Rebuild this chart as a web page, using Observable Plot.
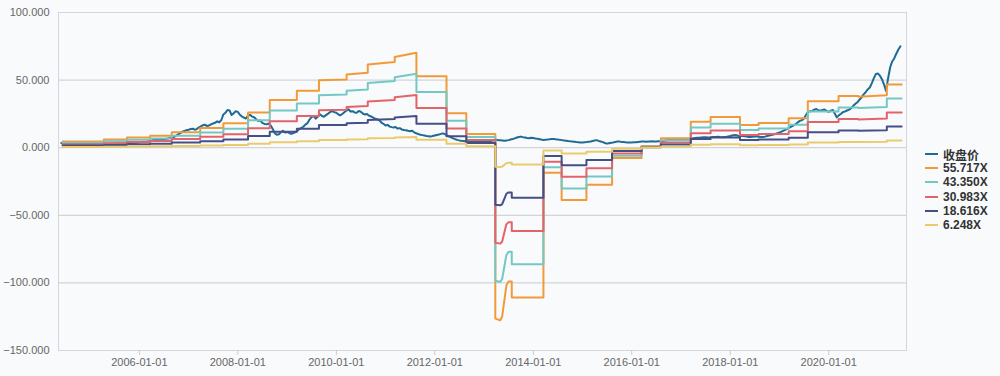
<!DOCTYPE html>
<html><head><meta charset="utf-8">
<script src="https://cdn.jsdelivr.net/npm/d3@7"></script>
<script src="https://cdn.jsdelivr.net/npm/@observablehq/plot@0.6"></script>
<style>
body{margin:0;background:#f9fafc;font-family:"Liberation Sans","Noto Sans CJK SC",sans-serif;}
#wrap{position:relative;width:1000px;height:376px;}
#legend{position:absolute;left:925px;top:147px;}
.item{display:flex;align-items:center;height:14.2px;font-size:12px;font-weight:bold;color:#333;white-space:nowrap;}
.sw{width:13px;height:2px;margin-right:5px;}
</style></head><body><div id="wrap"><div id="legend"></div></div>
<script>
// ---- data ----
const closeLabel = "收盘价";
const closeStart = [2004, 5]; // June 2004; two values per month (1st and 16th)
const closeValues = [
  3.4,3.3, 3.2,3.35, 3.3,3.1, 3.0,3.15, 3.1,2.95, 2.9,2.75, 2.8,2.95,
  2.9,3.05, 3.1,2.95, 3.0,2.85, 2.8,2.65, 2.7,2.85, 2.9,2.95, 3.0,3.2, 3.3,3.15, 3.2,3.35, 3.4,3.25, 3.3,3.5, 3.6,3.75,
  4.0,4.25, 4.4,4.45, 4.6,4.95, 5.2,5.7, 6.0,6.3, 6.4,6.0, 6.1,6.55, 6.8,7.3, 7.6,8.1, 8.9,9.9, 10.8,11.9, 12.4,12.9,
  13.2,13.9, 14.1,13.3, 13.6,14.9, 15.8,16.6, 17.0,16.1, 16.4,17.3, 17.9,18.4, 19.5,18.7, 20.5,24.6, 25.8,27.9, 27.6,24.2, 25.4,27.0,
  26.5,24.4, 23.0,22.3, 21.6,23.6, 24.3,23.0, 22.5,21.0, 19.8,20.2, 18.4,17.6, 17.3,17.9, 16.5,13.8, 10.8,9.6, 9.9,11.4, 12.6,11.2,
  11.6,10.9, 10.2,10.8, 11.3,12.4, 13.8,14.6, 15.5,17.1, 18.2,20.8, 22.6,23.4, 21.5,22.9, 24.8,23.5, 22.9,24.1, 25.2,26.4, 27.1,26.3,
  25.8,24.6, 24.0,25.1, 26.2,27.4, 28.4,26.8, 27.0,26.1, 25.9,27.2, 26.6,25.3, 24.5,24.9, 23.6,23.1, 22.3,21.4, 21.0,20.2, 18.6,17.7,
  16.4,16.9, 15.6,15.2, 14.9,15.3, 14.1,14.5, 13.5,13.1, 12.9,12.5, 12.2,12.6, 11.4,10.7, 10.1,9.6, 9.3,9.0, 8.6,8.4, 8.2,8.6,
  9.0,9.4, 9.7,10.2, 10.6,10.0, 9.1,8.3, 7.6,6.9, 6.3,5.8, 5.4,5.1, 4.9,4.7, 4.6,4.9, 4.8,4.6, 5.0,4.8, 4.7,5.0,
  4.9,4.7, 4.6,4.9, 5.2,5.5, 5.8,5.6, 5.5,5.3, 5.1,5.4, 5.6,6.0, 6.4,6.9, 7.5,7.9, 8.2,7.8, 7.6,7.2, 7.0,7.4,
  7.2,6.8, 6.6,6.3, 6.0,5.7, 5.8,6.1, 6.2,6.4, 6.5,6.2, 6.1,5.8, 5.6,5.4, 5.2,4.9, 4.7,4.6, 4.4,4.2, 4.1,3.9,
  3.9,4.1, 4.2,4.4, 4.6,5.0, 5.3,5.6, 5.0,4.6, 4.1,3.5, 3.0,3.3, 3.6,3.9, 4.3,4.5, 4.6,4.3, 4.2,4.0, 3.9,3.8,
  3.9,4.0, 4.1,4.3, 4.4,4.5, 4.6,4.4, 4.5,4.6, 4.7,4.5, 4.6,4.7, 4.8,5.0, 5.3,5.5, 5.7,5.9, 6.0,5.9, 5.8,6.0,
  6.1,6.3, 6.4,6.5, 6.6,6.8, 7.0,7.2, 7.3,7.4, 7.6,7.7, 7.8,7.6, 7.5,7.7, 7.9,8.0, 8.1,7.9, 7.8,7.9, 8.0,8.3,
  8.6,9.1, 9.4,9.2, 8.9,8.7, 8.6,8.4, 8.2,8.0, 7.9,8.1, 8.3,8.2, 8.1,8.0, 7.9,8.2, 8.6,9.0, 9.4,9.8, 10.2,10.7,
  11.2,11.9, 12.6,13.3, 14.0,14.9, 15.8,16.6, 17.5,18.7, 19.8,20.4, 21.5,24.2, 26.5,26.9, 27.2,28.1, 28.6,27.8, 27.4,27.9, 28.2,27.3,
  26.5,27.4, 27.9,25.1, 22.4,23.9, 25.1,26.3, 26.8,27.5, 28.2,29.3, 31.0,32.4, 33.6,35.5, 37.2,39.4, 41.0,43.1, 44.5,47.8, 51.5,54.6,
  54.8,53.1, 50.2,46.3, 42.0,51.0, 59.5,63.8, 66.0,69.5, 72.6,75.0
];

// EPS path (jumps appear as repeated dates)
const epsDates = [
  "2004-06-10","2005-04-12","2005-04-12","2005-10-01","2005-10-01","2006-03-22","2006-03-22","2006-08-29",
  "2006-08-29","2007-03-28","2007-03-28","2007-09-16","2007-09-16","2008-03-17","2008-03-17","2008-08-25",
  "2008-08-25","2009-03-14","2009-03-14","2009-08-25","2009-08-25","2010-03-18","2010-03-18","2010-08-22",
  "2010-08-22","2011-03-10","2011-03-10","2011-08-18","2011-08-18","2012-03-28","2012-03-28","2012-08-22",
  "2012-08-22","2013-03-25","2013-03-25","2013-05-01","2013-05-15","2013-06-15","2013-07-01","2013-07-25",
  "2013-07-25","2014-03-17","2014-03-17","2014-07-30","2014-07-30","2015-01-30","2015-01-30","2015-08-08",
  "2015-08-08","2016-03-14","2016-03-14","2016-08-04","2016-08-04","2017-03-14","2017-03-14","2017-08-08",
  "2017-08-08","2018-03-14","2018-03-14","2018-07-30","2018-07-30","2019-03-10","2019-03-10","2019-07-30",
  "2019-07-30","2020-03-14","2020-03-14","2020-08-08","2020-08-08","2021-03-07","2021-03-07","2021-06-25"
];
const epsValues = [
  0.083,0.083,0.108,0.108,0.135,0.135,0.158,0.158,
  0.206,0.206,0.260,0.260,0.323,0.323,0.467,0.467,
  0.634,0.634,0.756,0.756,0.897,0.906,0.973,0.994,
  1.104,1.138,1.203,1.260,0.949,0.949,0.458,0.458,
  0.183,0.183,-2.269,-2.290,-2.240,-1.830,-1.777,-1.777,
  -1.987,-1.987,-0.334,-0.334,-0.695,-0.695,-0.492,-0.492,
  -0.136,-0.136,0.020,0.020,0.127,0.127,0.346,0.346,
  0.408,0.408,0.303,0.303,0.329,0.329,0.391,0.391,
  0.616,0.616,0.686,0.686,0.676,0.695,0.840,0.840
];
const multiples = [55.717, 43.350, 30.983, 18.616, 6.248];
const bandLabels = ["55.717X", "43.350X", "30.983X", "18.616X", "6.248X"];
const seriesNames = [closeLabel, ...bandLabels];
const seriesColors = ["#1f6b95", "#f29a38", "#74c8c3", "#e2646a", "#454f86", "#eacb6b"];
const yTicks = [-150, -100, -50, 0, 50, 100];
const xTickYears = [2006, 2008, 2010, 2012, 2014, 2016, 2018, 2020];

// ---- tables ----
const closeRows = closeValues.map((v, i) => ({
  date: new Date(Date.UTC(closeStart[0], closeStart[1] + Math.floor(i / 2), i % 2 ? 16 : 1)),
  value: v
}));
const bandRows = [];
multiples.forEach((m, k) => {
  epsDates.forEach((d, i) => bandRows.push({date: new Date(d + "T00:00:00Z"), value: epsValues[i] * m, series: bandLabels[k]}));
});
const xTicks = xTickYears.map(y => new Date(Date.UTC(y, 0, 1)));

const chart = Plot.plot({
  width: 1000, height: 376,
  marginLeft: 58, marginRight: 94, marginTop: 12, marginBottom: 26,
  style: {background: "transparent", fontFamily: '"Liberation Sans", sans-serif', fontSize: "11px", color: "#666"},
  x: {type: "utc", domain: [new Date("2004-05-11T00:00:00Z"), new Date("2021-07-31T00:00:00Z")]},
  y: {domain: [-150, 100]},
  color: {domain: seriesNames, range: seriesColors},
  marks: [
    Plot.ruleY(yTicks.filter(t => t > -150), {stroke: "#c9cbcf", strokeWidth: 1}),
    Plot.frame({stroke: "#d3d6dc"}),
    Plot.axisY({ticks: yTicks, tickSize: 0, tickPadding: 9, tickFormat: d3.format(".3f"), label: null, fill: "#666"}),
    Plot.axisX({ticks: xTicks, tickSize: 5, tickPadding: 3, tickFormat: d3.utcFormat("%Y-%m-%d"), label: null, stroke: "#c9cbcf", fill: "#666"}),
    Plot.line(closeRows, {x: "date", y: "value", stroke: () => closeLabel, strokeWidth: 2}),
    Plot.line(bandRows, {x: "date", y: "value", z: "series", stroke: "series", strokeWidth: 2})
  ]
});
document.getElementById("wrap").prepend(chart);

const legend = document.getElementById("legend");
seriesNames.forEach((n, i) => {
  const row = document.createElement("div");
  row.className = "item";
  row.innerHTML = `<span class="sw" style="background:${seriesColors[i]}"></span><span>${n}</span>`;
  legend.appendChild(row);
});
</script>
</body></html>
